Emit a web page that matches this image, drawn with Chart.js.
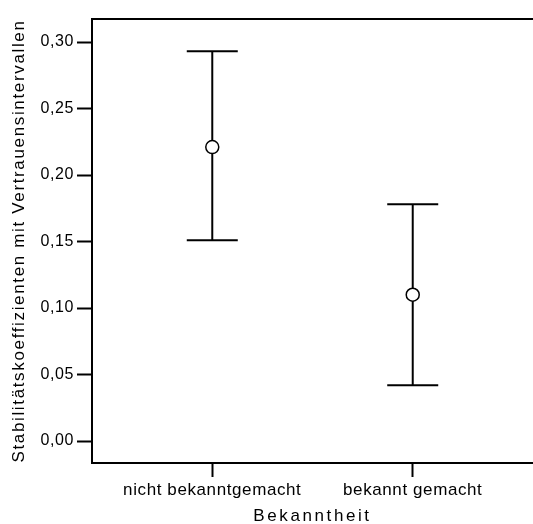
<!DOCTYPE html>
<html>
<head>
<meta charset="utf-8">
<script src="https://cdn.jsdelivr.net/npm/chart.js@4/dist/chart.umd.min.js"></script>
<style>
  html, body { margin: 0; padding: 0; background: #fff; }
  canvas { display: block; }
</style>
</head>
<body>
<canvas id="chart" width="533" height="524"></canvas>
<script>
// Mittelwerte mit 95%-Vertrauensintervallen je Gruppe
const categories  = ['nicht bekanntgemacht', 'bekannt gemacht']
const means       = [0.221, 0.110]
const lowerCI     = [0.151, 0.042]
const upperCI     = [0.293, 0.178]
const yTickValues = [0, 0.05, 0.10, 0.15, 0.20, 0.25, 0.30]
const yTickLabels = ['0,00', '0,05', '0,10', '0,15', '0,20', '0,25', '0,30']
const xTitle      = 'Bekanntheit'
const yTitle      = 'Stabilitätskoeffizienten mit Vertrauensintervallen'

const FONT = "'Liberation Sans', Arial, sans-serif"
const INK  = '#000'

// slightly wider letter spacing for all canvas text, more for the axis titles
const spacing = {
	id : 'spacing',
	beforeDraw : (chart) => { chart.ctx.letterSpacing = '0.6px' },
	afterLayout : (chart) => {
		const wide = { x : '2.6px', y : '1.65px' }
		for ( const id in wide ) {
			const scale = chart.scales[id]
			if ( scale._spaced ) { continue }
			const drawTitle = scale.drawTitle
			scale.drawTitle = function () {
				this.ctx.save()
				this.ctx.letterSpacing = wide[id]
				drawTitle.call(this)
				this.ctx.restore()
			}
			scale._spaced = true
		}
	},
}

const pts = (values) => values.map((y, i) => ({ x : i, y : y }))

const capStyle = {
	showLine         : false,
	pointStyle       : 'line',
	pointRadius      : 25.5,
	pointBorderWidth : 2,
	pointBorderColor : INK,
}

const datasets = [
	{
		label                : 'Mittelwert',
		data                 : pts(means),
		showLine             : false,
		pointStyle           : 'circle',
		pointRadius          : 6.5,
		pointBorderWidth     : 1.5,
		pointBackgroundColor : '#fff',
		pointBorderColor     : INK,
	},
	{ label : 'obere Grenze', data : pts(upperCI), ...capStyle },
	{ label : 'untere Grenze', data : pts(lowerCI), ...capStyle },
	...categories.map((name, i) => ({
		label       : name,
		data        : [{ x : i, y : lowerCI[i] }, { x : i, y : upperCI[i] }],
		showLine    : true,
		borderColor : INK,
		borderWidth : 2,
		pointRadius : 0,
	})),
]

new Chart(document.getElementById('chart'), {
	type : 'scatter',
	data : { datasets : datasets },
	options : {
		responsive : false,
		animation  : false,
		layout     : { autoPadding : false, padding : { top : 19, right : 0, bottom : 0, left : 0 } },
		plugins    : {
			legend  : { display : false },
			tooltip : { enabled : false },
		},
		scales : {
			x : {
				type            : 'linear',
				min             : -0.6,
				max             : 1.6,
				afterBuildTicks : (scale) => { scale.ticks = categories.map((c, i) => ({ value : i })) },
				afterFit        : (scale) => { scale.height = 61 },
				ticks : {
					callback    : (value) => categories[value],
					font        : { family : FONT, size : 17 },
					color       : INK,
					padding     : 3,
					maxRotation : 0,
					autoSkip    : false,
				},
				grid : {
					drawOnChartArea : false,
					tickLength      : 14,
					tickWidth       : 2,
					tickColor       : INK,
				},
				border : { color : INK, width : 2 },
				title  : {
					display : true,
					text    : xTitle,
					font    : { family : FONT, size : 17, lineHeight : 0.875 },
					color   : INK,
					padding : { top : 0, bottom : 0 },
				},
			},
			xTop : {
				type     : 'linear',
				position : 'top',
				min      : -0.6,
				max      : 1.6,
				afterFit : (scale) => { scale.height = 0 },
				ticks    : { display : false },
				grid     : { display : false, drawTicks : false },
				border   : { color : INK, width : 2 },
			},
			y : {
				type            : 'linear',
				min             : -0.0165,
				max             : 0.3173,
				afterBuildTicks : (scale) => { scale.ticks = yTickValues.map((v) => ({ value : v })) },
				afterFit        : (scale) => { scale.width = 92 },
				ticks : {
					callback : (value, index) => yTickLabels[index],
					font     : { family : FONT, size : 16 },
					color    : INK,
					padding  : 3,
				},
				grid : {
					drawOnChartArea : false,
					tickLength      : 15,
					tickWidth       : 2,
					tickColor       : INK,
				},
				border : { color : INK, width : 2 },
				title  : {
					display : true,
					text    : yTitle,
					font    : { family : FONT, size : 17, lineHeight : 1 },
					color   : INK,
					padding : { top : 10.5, bottom : 0 },
				},
			},
		},
	},
	plugins : [spacing],
})
</script>
</body>
</html>
